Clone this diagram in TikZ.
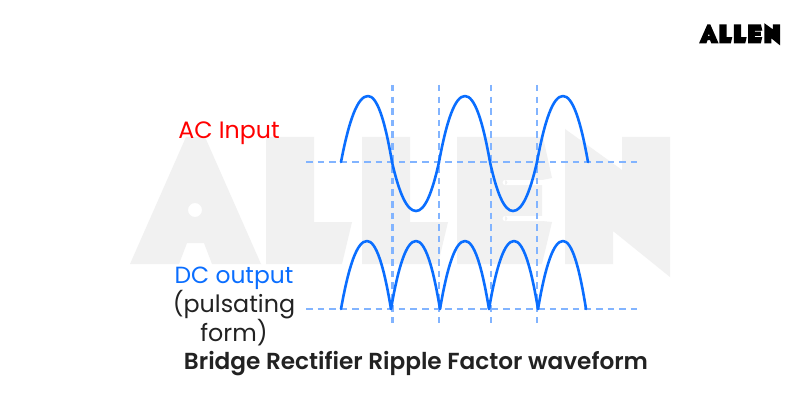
\documentclass[tikz,border=0pt]{standalone}
\usepackage{fontspec}
\setmainfont{Poppins}[BoldFont={Poppins SemiBold}]
\definecolor{wave}{HTML}{0A6EFF}
\definecolor{dashc}{HTML}{82B4FF}
\definecolor{wm}{HTML}{F1F1F1}
\definecolor{ink}{HTML}{222222}
\newcommand{\archcurve}[5]{\draw[wavel] (#1,#4) .. controls ({#1+.3*(#2-#1)},{#4+.64*(#5-#4)}) and ({#1+.62*(#2-#1)},#5) .. (#2,#5) .. controls ({#3-.62*(#3-#2)},#5) and ({#3-.3*(#3-#2)},{#4+.64*(#5-#4)}) .. (#3,#4);}
\tikzset{
  wavel/.style={draw=wave,line width=2.6pt,line cap=round,line join=round},
  guide/.style={draw=dashc,line width=2.6pt,dash pattern=on 6.5pt off 5.1pt},
  lab/.style={inner sep=0pt,align=center},
  pics/brand/.style={code={
    \fill[#1,even odd rule]
      (130,264) -- (186,137) -- (205,137) -- (261,264) -- (212,264) -- (204,243) -- (187,243) -- (179,264) -- cycle
      (202,210) arc[start angle=0,end angle=360,radius=7];
    \fill[#1] (266,137) -- (314,137) -- (314,222) -- (352,222) -- (342,264) -- (266,264) -- cycle;
    \fill[#1] (362,137) -- (410,137) -- (410,222) -- (448,222) -- (438,264) -- (362,264) -- cycle;
    \fill[#1] (457,137) -- (543,137) -- (552,178) -- (542,180) -- (542,221) -- (552,222) -- (542,264) -- (457,264) -- cycle;
    \fill[#1] (565,129) -- (622,170) -- (622,137) -- (670,137) -- (670,277) -- (613,231) -- (613,264) -- (565,264) -- cycle;
    \fill[white] (505,180) rectangle (543,185) (505,182.5) circle[radius=2.5];
    \fill[white] (505,216) rectangle (543,221) (505,218.5) circle[radius=2.5];
  }}
}
\begin{document}
\begin{tikzpicture}[x=1pt,y=-1pt]
\useasboundingbox (0,0) rectangle (800,401);
\fill[white] (0,0) rectangle (800,401);
\pic {brand=wm};
\begin{scope}[shift={(699,23)},scale=0.15,shift={(-130,-128)}]
\pic[transform shape] {brand=black};
\end{scope}
\draw[guide] (306,162) -- (637,162);
\draw[guide] (306,309) -- (637,309);
\foreach \x in {392.5,439,491,537} \draw[guide] (\x,85) -- (\x,323);
\archcurve{341}{368}{392}{162}{96}
\archcurve{392}{416}{439}{162}{211}
\archcurve{439}{465}{490}{162}{96}
\archcurve{490}{513}{537}{162}{211}
\archcurve{537}{563}{588}{162}{96}
\archcurve{341}{367}{391}{309}{241}
\archcurve{391}{416}{440}{309}{241}
\archcurve{440}{465}{489}{309}{241}
\archcurve{489}{514}{538}{309}{241}
\archcurve{538}{563}{586}{309}{241}
\node[lab,text=red,font=\fontsize{23.7}{26}\selectfont] (ac) at (229,133) {AC Input};
\node[lab,text=wave,font=\fontsize{23.4}{26}\selectfont] (dc) at (234,278) {DC output};
\node[lab,text=ink,font=\fontsize{23.8}{24}\selectfont] (pf) at (234,318) {(pulsating\\form)};
\node[lab,text=ink,font=\fontsize{23.2}{24}\selectfont\bfseries] (title) at (416,364) {Bridge Rectifier Ripple Factor waveform};
\end{tikzpicture}
\end{document}
